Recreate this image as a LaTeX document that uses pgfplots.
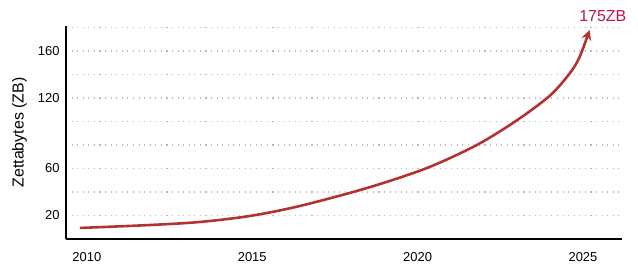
\documentclass[border=0pt]{standalone}
\usepackage{fontspec}
\setmainfont{Liberation Sans}
\usepackage{pgfplots}
\pgfplotsset{compat=1.18}
\usetikzlibrary{arrows.meta}
\definecolor{curve}{HTML}{B3322E}
\definecolor{lab}{HTML}{C0124E}
\begin{document}
\begin{tikzpicture}
\path[use as bounding box] (-66bp,-31bp) rectangle (572bp,239bp);
\begin{axis}[
  at={(0,0)}, anchor=origin,
  width=556bp, height=213bp, scale only axis,
  xmin=2009.37, xmax=2026.18,
  ymin=0, ymax=181.3,
  axis x line=bottom, axis y line=left,
  axis line style={-, line width=3pt, black},
  xtick={2010,2015,2020,2025},
  xticklabels={2010,2015,2020,2025},
  ytick={20,40,60,80,100,120,140,160,180},
  yticklabels={20,,60,,,120,,160,},
  major tick length=0pt,
  ymajorgrids,
  grid style={gray!55, line width=1.1pt, dash pattern=on 1.1pt off 4.5pt},
  /pgf/number format/assume math mode=true,
  tick label style={font=\fontsize{13}{15}\selectfont},
  xticklabel style={yshift=-10pt},
  yticklabel style={xshift=-3pt},
  ylabel={Zettabytes (ZB)},
  ylabel style={font=\fontsize{16}{18}\selectfont, yshift=4pt},
  clip=false,
]
\addplot[curve, line width=2.6pt, smooth, -{Stealth[length=10pt,width=10pt]}] coordinates {
(2009.79,9.4) (2011.9,11.9) (2013.42,14.5) (2014.93,19.6) (2016.44,28.1)
(2018.47,43.4) (2020.28,60.4) (2021.79,80.0) (2023.0,101.0) (2024.0,122.0)
(2024.6,141.0) (2024.9,155.0) (2025.2,177.9)
};
\node[text=lab, font=\fontsize{16}{18}\selectfont] at (axis cs:2025.6,189.8) {175ZB};
\end{axis}
\end{tikzpicture}
\end{document}
